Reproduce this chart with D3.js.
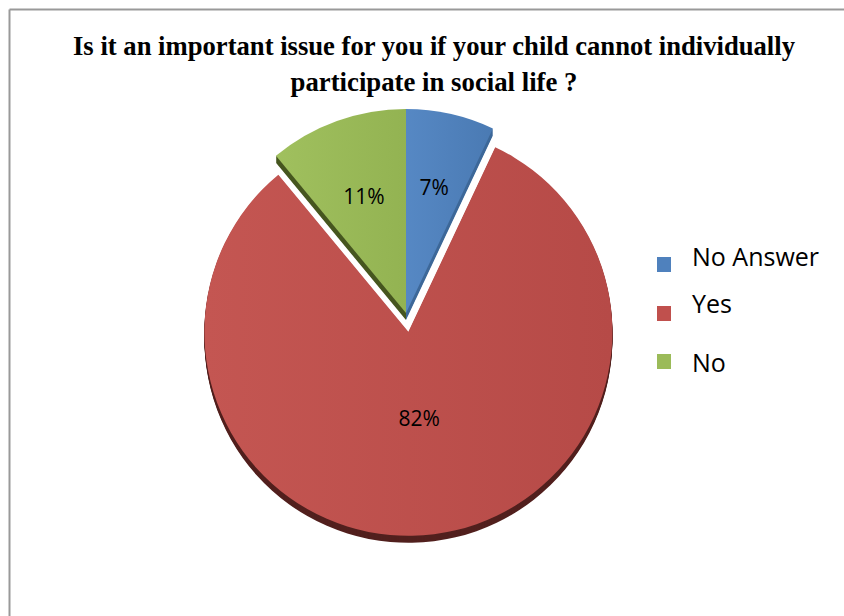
<!DOCTYPE html>
<html>
<head>
<meta charset="utf-8">
<script src="https://cdn.jsdelivr.net/npm/d3@7"></script>
<style>
  html, body { margin: 0; padding: 0; background: #fff; }
  svg { display: block; }
</style>
</head>
<body>
<svg id="chart" width="844" height="616"></svg>
<script>
// ---- data ----
const categories = ["No Answer", "Yes", "No"];
const values = [7, 82, 11];
const labels = ["7%", "82%", "11%"];
const titleLines = [
  "Is it an important issue for you if your child cannot individually",
  "participate in social life ?"
];

// ---- styles ----
const faceColors = ["#4f81bd", "#c0504d", "#9bbb59"];
const faceLight  = ["#5688c4", "#c45652", "#a0c05e"];
const faceDark   = ["#4a7ab3", "#b64a47", "#93b352"];
const sideColors = ["#3d6899", "#52201e", "#46561f"];
const explode = [0, 19, 0];
const labelR  = [0.635, 0.425, 0.61];

const svg = d3.select("#chart");
const W = 844, H = 616;

// frame
svg.append("line").attr("x1", 9.5).attr("y1", 9.5).attr("x2", W).attr("y2", 9.5)
  .attr("stroke", "#999").attr("stroke-width", 2);
svg.append("line").attr("x1", 9.5).attr("y1", 9.5).attr("x2", 9.5).attr("y2", H)
  .attr("stroke", "#999").attr("stroke-width", 2);

// title
const titleG = svg.append("g");
const titleY = [55, 91];
titleLines.forEach((t, i) => {
  const tx = titleG.append("text")
    .attr("x", 434).attr("y", titleY[i])
    .attr("text-anchor", "middle")
    .attr("font-family", "'Liberation Serif', 'Times New Roman', serif")
    .attr("font-weight", "bold")
    .attr("font-size", 26.5)
    .attr("fill", "#000")
    .text(t);
  const target = i === 0 ? 722 : 287;
  tx.attr("textLength", target).attr("lengthAdjust", "spacingAndGlyphs");
});

// gradients
const defs = svg.append("defs");
categories.forEach((c, i) => {
  const g = defs.append("linearGradient").attr("id", "grad" + i)
    .attr("x1", "0%").attr("y1", "0%").attr("x2", "100%").attr("y2", "0%");
  g.append("stop").attr("offset", "0%").attr("stop-color", faceLight[i]);
  g.append("stop").attr("offset", "100%").attr("stop-color", faceDark[i]);
});

// pie
const cx = 406, cy = 313, r = 204, depth = 7;
const pie = d3.pie().sort(null).value(d => d)(values);
const arc = d3.arc().innerRadius(0).outerRadius(r);

function offset(d, i) {
  const a = (d.startAngle + d.endAngle) / 2;
  return [cx + explode[i] * Math.sin(a), cy - explode[i] * Math.cos(a)];
}

const sides = svg.append("g");
pie.forEach((d, i) => {
  const [ox, oy] = offset(d, i);
  for (let k = depth; k >= 1; k--) {
    sides.append("path")
      .attr("d", arc(d))
      .attr("transform", `translate(${ox},${oy + k})`)
      .attr("fill", sideColors[i]);
  }
});

const faces = svg.append("g");
pie.forEach((d, i) => {
  const [ox, oy] = offset(d, i);
  faces.append("path")
    .attr("d", arc(d))
    .attr("transform", `translate(${ox},${oy})`)
    .attr("fill", `url(#grad${i})`);
});

// labels
pie.forEach((d, i) => {
  const [ox, oy] = offset(d, i);
  const a = (d.startAngle + d.endAngle) / 2;
  const lr = r * labelR[i];
  svg.append("text")
    .attr("x", ox + lr * Math.sin(a))
    .attr("y", oy - lr * Math.cos(a))
    .attr("text-anchor", "middle")
    .attr("dominant-baseline", "central")
    .attr("font-family", "'Open Sans', sans-serif")
    .attr("font-size", 21)
    .attr("fill", "#000")
    .text(labels[i]);
});

// legend
const legend = svg.append("g");
const legRectY = [257, 306, 354];
const legTextY = [265.7, 313, 371.5];
categories.forEach((c, i) => {
  legend.append("rect")
    .attr("x", 657).attr("y", legRectY[i])
    .attr("width", 14).attr("height", 15)
    .attr("fill", faceColors[i]);
  legend.append("text")
    .attr("x", 692).attr("y", legTextY[i])
    .attr("font-family", "'Open Sans', sans-serif")
    .attr("font-size", 25)
    .attr("fill", "#000")
    .text(c);
});
</script>
</body>
</html>
